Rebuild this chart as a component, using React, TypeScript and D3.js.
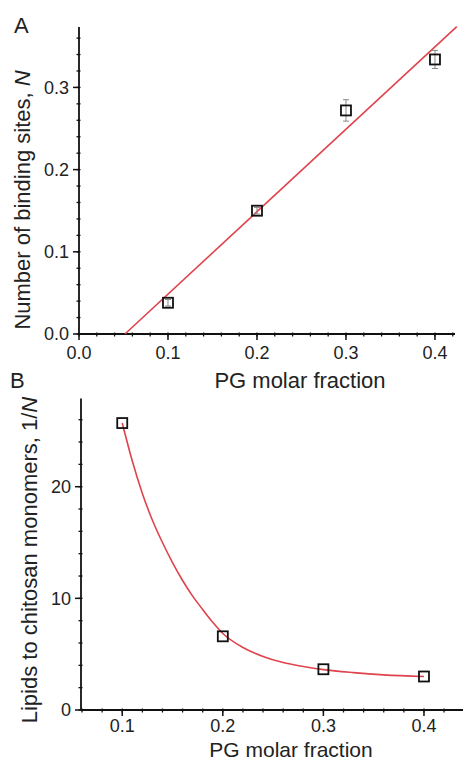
import React from "react";
import * as d3 from "d3";

// Panel A data: number of binding sites N vs PG molar fraction
const pgFractionA = [0.1, 0.2, 0.3, 0.4];
const bindingSites = [0.038, 0.15, 0.272, 0.334];
const bindingErr = [0.004, 0.004, 0.013, 0.011];
const fitSlopeA = 1.003;
const fitInterceptA = -0.0518;
const xTicksA = [0.0, 0.1, 0.2, 0.3, 0.4];
const yTicksA = [0.0, 0.1, 0.2, 0.3];

// Panel B data: lipids to chitosan monomers 1/N
const pgFractionB = [0.1, 0.2, 0.3, 0.4];
const lipidRatio = [25.7, 6.6, 3.65, 3.0];
// fitted curve
const fitCurveX = [0.1, 0.11, 0.12, 0.13, 0.14, 0.15, 0.16, 0.17, 0.18, 0.19, 0.2, 0.22, 0.24, 0.26, 0.28, 0.3, 0.33, 0.36, 0.4];
const fitCurveY = [25.7, 22.3, 19.4, 17.0, 15.0, 13.2, 11.6, 10.2, 9.0, 7.85, 6.85, 5.6, 4.8, 4.25, 3.9, 3.62, 3.35, 3.15, 3.0];
const xTicksB = [0.1, 0.2, 0.3, 0.4];
const yTicksB = [0, 10, 20];

const FONT = "'Liberation Sans', Arial, Helvetica, sans-serif";
const TXT = "#222";
const RED = "#e0434d";

function range(a: number, b: number, s: number) {
  return d3.range(Math.round(a / s), Math.round(b / s) + 1).map((i) => +(i * s).toFixed(6));
}

function Axes({ x, y, xTicks, yTicks, xMinor, yMinor, xFmt, yFmt, xLabelOffset }: any) {
  const [x0, x1] = x.range();
  const [y0, y1] = y.range();
  return (
    <g>
      <line x1={x0} x2={x1} y1={y0} y2={y0} stroke="#111" strokeWidth={1.8} />
      <line x1={x0} x2={x0} y1={y0} y2={y1} stroke="#111" strokeWidth={1.8} />
      {xMinor.map((t: number, i: number) => (
        <line key={"xm" + i} x1={x(t)} x2={x(t)} y1={y0 - 1.5} y2={y0 + 2.5} stroke="#111" strokeWidth={1.3} />
      ))}
      {yMinor.map((t: number, i: number) => (
        <line key={"ym" + i} x1={x0 - 2.5} x2={x0 + 1.5} y1={y(t)} y2={y(t)} stroke="#111" strokeWidth={1.3} />
      ))}
      {xTicks.map((t: number, i: number) => (
        <g key={"x" + i}>
          <line x1={x(t)} x2={x(t)} y1={y0} y2={y0 + 6} stroke="#111" strokeWidth={1.5} />
          <text x={x(t)} y={y0 + xLabelOffset} textAnchor="middle" fontSize={18} fill={TXT} fontFamily={FONT}>
            {xFmt(t)}
          </text>
        </g>
      ))}
      {yTicks.map((t: number, i: number) => (
        <g key={"y" + i}>
          <line x1={x0 - 6} x2={x0} y1={y(t)} y2={y(t)} stroke="#111" strokeWidth={1.5} />
          <text x={x0 - 10} y={y(t)} dy="0.35em" textAnchor="end" fontSize={18} fill={TXT} fontFamily={FONT}>
            {yFmt(t)}
          </text>
        </g>
      ))}
    </g>
  );
}

function Square({ cx, cy }: { cx: number; cy: number }) {
  const s = 10;
  return <rect x={cx - s / 2} y={cy - s / 2} width={s} height={s} fill="none" stroke="#111" strokeWidth={1.8} />;
}

export default function App() {
  // Panel A
  const xA = d3.scaleLinear().domain([0, 0.4225]).range([79, 455]);
  const yA = d3.scaleLinear().domain([0, 0.3735]).range([334, 27]);
  const xStart = -fitInterceptA / fitSlopeA;
  const xEnd = 0.4245;
  const lineA = d3.line<number>().x((d) => xA(d)).y((d) => yA(fitInterceptA + fitSlopeA * d));

  // Panel B
  const xB = d3.scaleLinear().domain([0.059, 0.44]).range([81, 464.2]);
  const yB = d3.scaleLinear().domain([0, 27.9]).range([710, 398.5]);
  const curveB = d3
    .line<number>()
    .x((_, i) => xB(fitCurveX[i]))
    .y((d) => yB(d))
    .curve(d3.curveMonotoneX);

  const f1 = d3.format(".1f");

  return (
    <svg width={463} height={762} style={{ position: "absolute", left: 0, top: 0, background: "#fff" }}>
      <rect width={463} height={762} fill="#fff" />
      {/* Panel A */}
      <text x={14} y={33} fontSize={22} fill={TXT} fontFamily={FONT}>A</text>
      <Axes
        x={xA}
        y={yA}
        xTicks={xTicksA}
        yTicks={yTicksA}
        xMinor={range(0, 0.42, 0.02)}
        yMinor={range(0, 0.36, 0.02)}
        xFmt={f1}
        yFmt={f1}
        xLabelOffset={25}
      />
      <path d={lineA([xStart, xEnd]) || ""} stroke={RED} strokeWidth={1.6} fill="none" />
      {pgFractionA.map((xv, i) => (
        <g key={"ea" + i}>
          <line x1={xA(xv)} x2={xA(xv)} y1={yA(bindingSites[i] - bindingErr[i])} y2={yA(bindingSites[i] + bindingErr[i])} stroke="#888" strokeWidth={1} />
          <line x1={xA(xv) - 3} x2={xA(xv) + 3} y1={yA(bindingSites[i] - bindingErr[i])} y2={yA(bindingSites[i] - bindingErr[i])} stroke="#888" strokeWidth={1} />
          <line x1={xA(xv) - 3} x2={xA(xv) + 3} y1={yA(bindingSites[i] + bindingErr[i])} y2={yA(bindingSites[i] + bindingErr[i])} stroke="#888" strokeWidth={1} />
        </g>
      ))}
      {pgFractionA.map((xv, i) => (
        <Square key={"pa" + i} cx={xA(xv)} cy={yA(bindingSites[i])} />
      ))}
      <text x={300} y={388} textAnchor="middle" fontSize={22} fill={TXT} fontFamily={FONT}>PG molar fraction</text>
      <text transform="translate(30,200) rotate(-90)" textAnchor="middle" fontSize={22} fill={TXT} fontFamily={FONT}>
        Number of binding sites, <tspan fontStyle="italic">N</tspan>
      </text>

      {/* Panel B */}
      <text x={10} y={388} fontSize={22} fill={TXT} fontFamily={FONT}>B</text>
      <Axes
        x={xB}
        y={yB}
        xTicks={xTicksB}
        yTicks={yTicksB}
        xMinor={range(0.06, 0.44, 0.02)}
        yMinor={range(0, 26, 2)}
        xFmt={f1}
        yFmt={d3.format("d")}
        xLabelOffset={22}
      />
      <path d={curveB(fitCurveY) || ""} stroke={RED} strokeWidth={1.6} fill="none" />
      {pgFractionB.map((xv, i) => (
        <Square key={"pb" + i} cx={xB(xv)} cy={yB(lipidRatio[i])} />
      ))}
      <text x={291} y={757} textAnchor="middle" fontSize={21} fill={TXT} fontFamily={FONT}>PG molar fraction</text>
      <text transform="translate(37,560) rotate(-90)" textAnchor="middle" fontSize={22} fill={TXT} fontFamily={FONT}>
        Lipids to chitosan monomers, 1/<tspan fontStyle="italic">N</tspan>
      </text>
    </svg>
  );
}
